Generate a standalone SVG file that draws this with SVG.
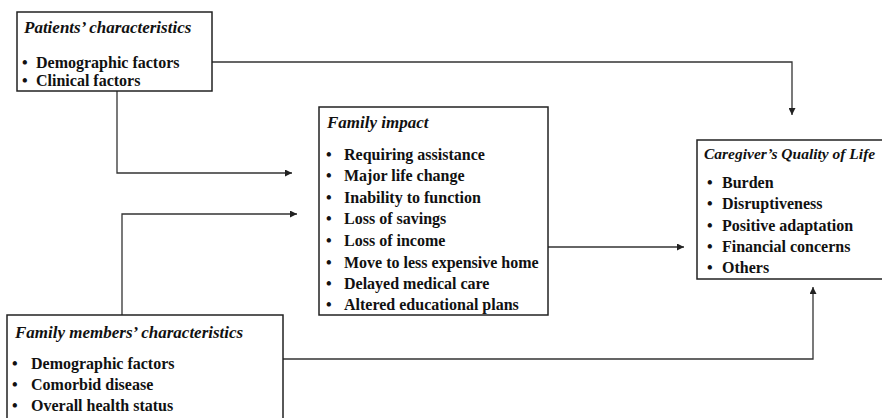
<svg xmlns="http://www.w3.org/2000/svg" width="882" height="418" viewBox="0 0 882 418">
<defs>
<style>
.box{fill:#fff;stroke:#222;stroke-width:1.5}
.t{font-family:"Liberation Serif","Times New Roman",serif;font-size:16px;font-weight:bold;fill:#111}
.h{font-style:italic;font-size:17px}
.c{fill:none;stroke:#333;stroke-width:1.3}
</style>
<marker id="ah" viewBox="0 0 10 10" refX="10" refY="5" markerWidth="7" markerHeight="7" markerUnits="userSpaceOnUse" orient="auto"><path d="M0,0 L10,5 L0,10 z" fill="#222"/></marker>
</defs>
<rect width="882" height="418" fill="#fff"/>
<g id="connectors">
<polyline class="c" points="212,62 792,62 792,115" marker-end="url(#ah)"/>
<polyline class="c" points="117,91 117,173 292,173" marker-end="url(#ah)"/>
<polyline class="c" points="122,315 122,214 297,214" marker-end="url(#ah)"/>
<polyline class="c" points="548,247 684,247" marker-end="url(#ah)"/>
<polyline class="c" points="283,359 813,359 813,287" marker-end="url(#ah)"/>
</g>
<g id="patients">
<rect class="box" x="17" y="12" width="195" height="79"/>
<text class="t h" x="24" y="33">Patients’ characteristics</text>
<text class="t" x="22" y="68">•<tspan x="36">Demographic factors</tspan></text>
<text class="t" x="22" y="86">•<tspan x="36">Clinical factors</tspan></text>
</g>
<g id="family-impact">
<rect class="box" x="319" y="107" width="229" height="208"/>
<text class="t h" x="327" y="128">Family impact</text>
<text class="t" x="326" y="160">•<tspan x="344">Requiring assistance</tspan></text>
<text class="t" x="326" y="181">•<tspan x="344">Major life change</tspan></text>
<text class="t" x="326" y="203">•<tspan x="344">Inability to function</tspan></text>
<text class="t" x="326" y="224">•<tspan x="344">Loss of savings</tspan></text>
<text class="t" x="326" y="246">•<tspan x="344">Loss of income</tspan></text>
<text class="t" x="326" y="268">•<tspan x="344">Move to less expensive home</tspan></text>
<text class="t" x="326" y="289">•<tspan x="344">Delayed medical care</tspan></text>
<text class="t" x="326" y="310">•<tspan x="344">Altered educational plans</tspan></text>
</g>
<g id="caregiver">
<rect class="box" x="697" y="140" width="200" height="139"/>
<text class="t h" x="704" y="159" style="font-size:15.5px">Caregiver’s Quality of Life</text>
<text class="t" x="707" y="188">•<tspan x="722">Burden</tspan></text>
<text class="t" x="707" y="209">•<tspan x="722">Disruptiveness</tspan></text>
<text class="t" x="707" y="231">•<tspan x="722">Positive adaptation</tspan></text>
<text class="t" x="707" y="252">•<tspan x="722">Financial concerns</tspan></text>
<text class="t" x="707" y="273">•<tspan x="722">Others</tspan></text>
</g>
<g id="family-members">
<rect class="box" x="7" y="315" width="276" height="112"/>
<text class="t h" x="15" y="338">Family members’ characteristics</text>
<text class="t" x="12" y="369">•<tspan x="31">Demographic factors</tspan></text>
<text class="t" x="12" y="390">•<tspan x="31">Comorbid disease</tspan></text>
<text class="t" x="12" y="411">•<tspan x="31">Overall health status</tspan></text>
</g>
</svg>
